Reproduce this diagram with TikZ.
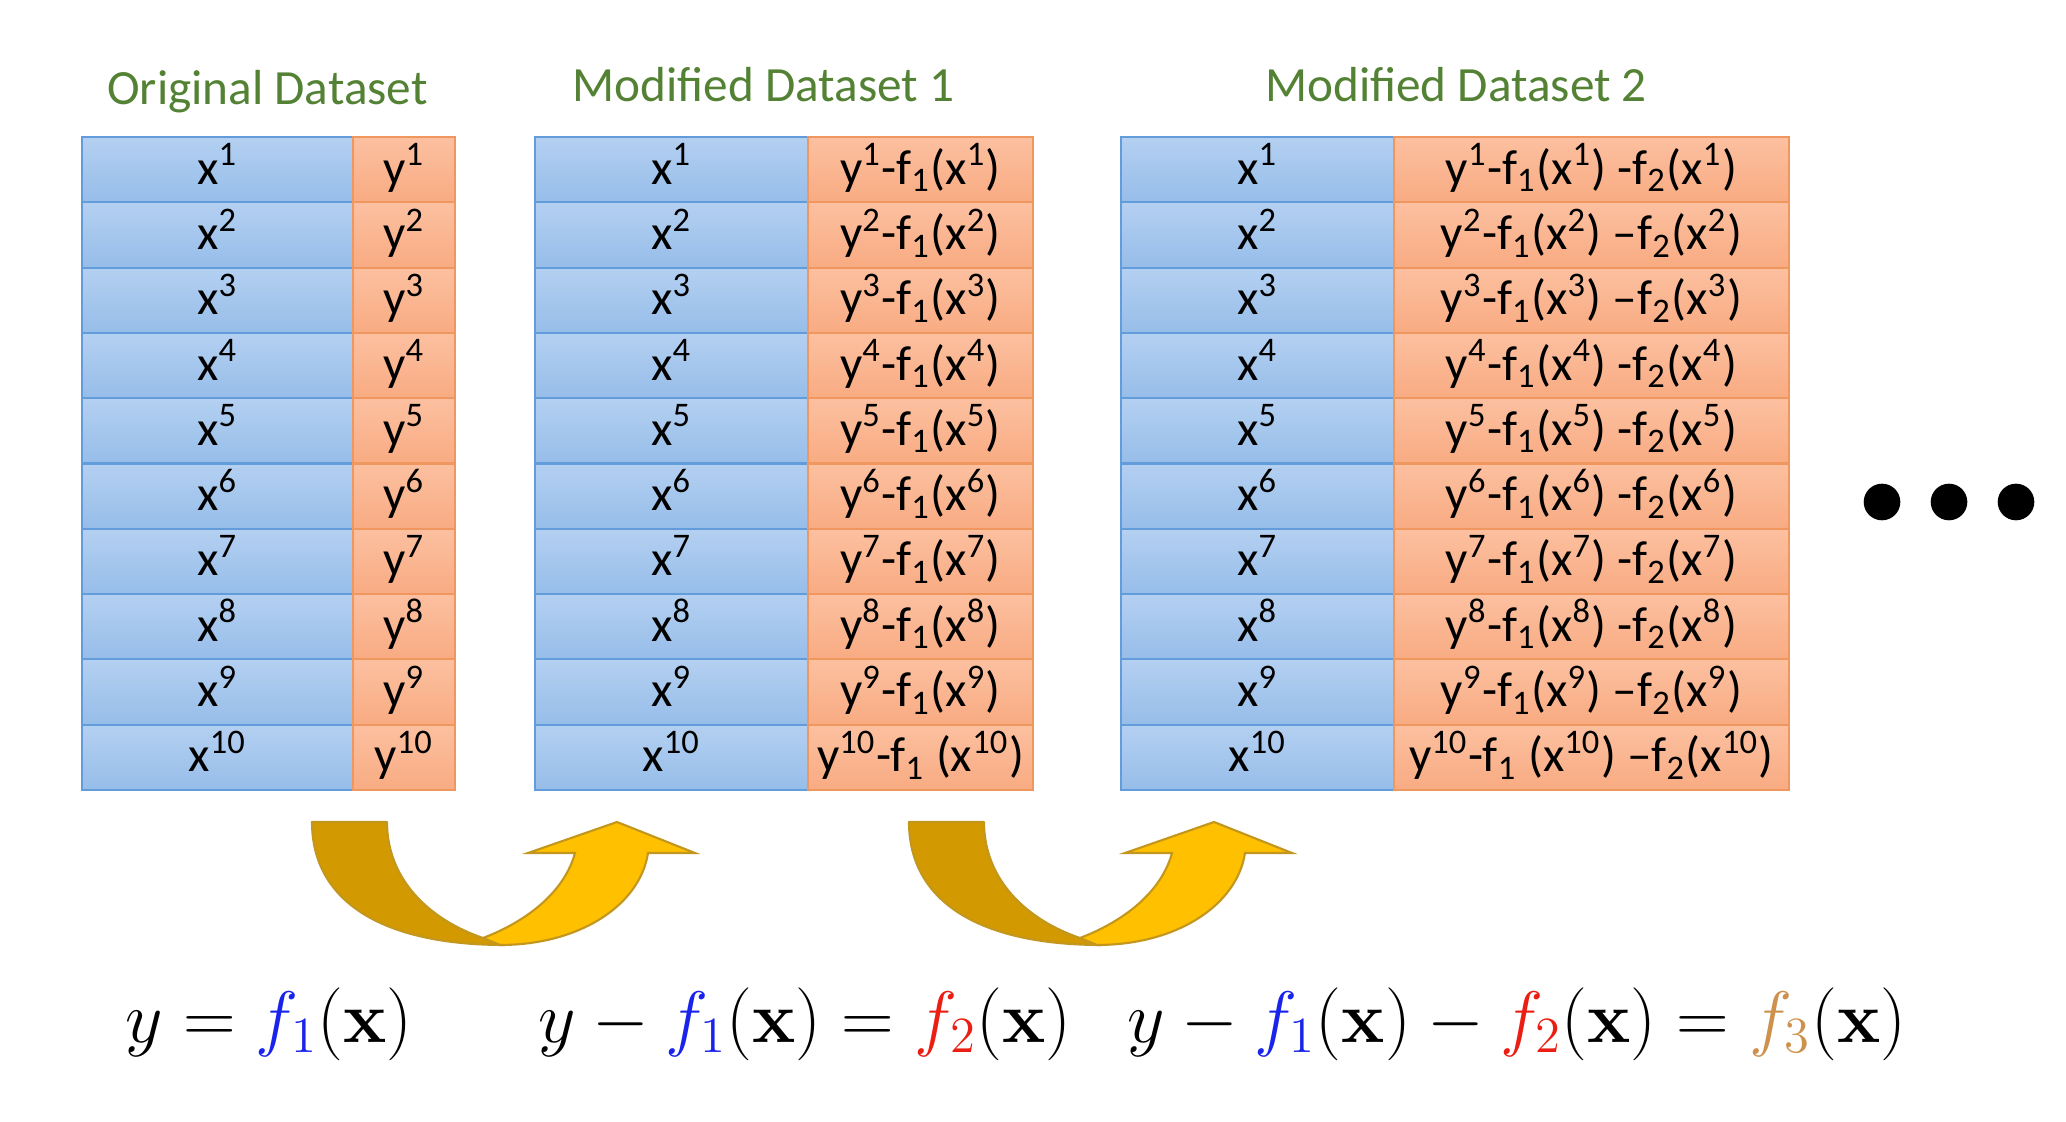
\documentclass[tikz,border=0pt]{standalone}
\usepackage[no-math]{fontspec}
\setmainfont{Carlito}
\definecolor{titlegreen}{RGB}{84,130,53}
\definecolor{blueT}{RGB}{180,208,241}
\definecolor{blueB}{RGB}{150,189,233}
\definecolor{blueLine}{RGB}{98,156,218}
\definecolor{orangeT}{RGB}{252,192,160}
\definecolor{orangeB}{RGB}{248,171,130}
\definecolor{orangeLine}{RGB}{240,150,95}
\definecolor{gold}{RGB}{210,154,0}
\definecolor{amber}{RGB}{255,192,0}
\definecolor{goldLine}{RGB}{195,150,30}
\definecolor{fblue}{RGB}{25,35,235}
\definecolor{fred}{RGB}{235,30,20}
\definecolor{ftan}{RGB}{205,145,75}
\begin{document}
\begin{tikzpicture}[x=0.01cm,y=-0.01cm,
  cellbase/.style={inner sep=0pt, outer sep=0pt, minimum height=0.653cm, line width=0.6pt,
    font=\fontsize{14}{17}\selectfont, text height=0.47cm, text depth=0.18cm},
  xcell/.style={cellbase, draw=blueLine, top color=blueT, bottom color=blueB},
  ycell/.style={cellbase, draw=orangeLine, top color=orangeT, bottom color=orangeB},
  titletext/.style={anchor=base, text=titlegreen, font=\fontsize{14}{17}\selectfont},
  formula/.style={anchor=base, inner sep=0pt, font=\fontsize{20}{24}\selectfont},
  bigdot/.style={circle, fill=black, inner sep=0pt, minimum size=0.366cm},
  darkband/.style={fill=gold, draw=goldLine, line width=0.6pt, line join=round},
  lightband/.style={fill=amber, draw=goldLine, line width=0.6pt, line join=miter}]

\fill[white] (0,0) rectangle (2066,1122);
\useasboundingbox (0,0) rectangle (2066,1122);

% titles
\node[titletext] (title1) at (267.5,105) {Original Dataset};
\node[titletext] (title2) at (763.5,102) {Modified Dataset 1};
\node[titletext] (title3) at (1456,102) {Modified Dataset 2};

% table 1
\foreach \i in {1,...,10}{
  \pgfmathsetmacro{\ry}{137+65.3*(\i-0.5)}
  \node[xcell, minimum width=2.71cm] (ax\i) at (217.5,\ry) {x\textsuperscript{\i}};
  \node[ycell, minimum width=1.02cm] (ay\i) at (404,\ry) {y\textsuperscript{\i}};
}

% table 2
\foreach \i/\gp in {1/{},2/{},3/{},4/{},5/{},6/{},7/{},8/{},9/{},10/\space}{
  \pgfmathsetmacro{\ry}{137+65.3*(\i-0.5)}
  \node[xcell, minimum width=2.73cm] (bx\i) at (671.5,\ry) {x\textsuperscript{\i}};
  \node[ycell, minimum width=2.25cm] (by\i) at (920.5,\ry)
    {y\textsuperscript{\i}-f\textsubscript{1}\gp(x\textsuperscript{\i})};
}

% table 3
\foreach \i/\gp/\dsh in {1/{}/-,2/{}/\textendash,3/{}/\textendash,4/{}/-,5/{}/-,6/{}/-,7/{}/-,8/{}/-,9/{}/\textendash,10/\space/\textendash}{
  \pgfmathsetmacro{\ry}{137+65.3*(\i-0.5)}
  \node[xcell, minimum width=2.73cm] (cx\i) at (1257.5,\ry) {x\textsuperscript{\i}};
  \node[ycell, minimum width=3.95cm] (cy\i) at (1591.5,\ry)
    {y\textsuperscript{\i}-f\textsubscript{1}\gp(x\textsuperscript{\i}) \dsh f\textsubscript{2}(x\textsuperscript{\i})};
}

% dots
\node[bigdot] (dot1) at (1882,502) {};
\node[bigdot] (dot2) at (1949,502) {};
\node[bigdot] (dot3) at (2016,502) {};

% curved arrows
\foreach \s in {0,597}{
\begin{scope}[shift={(\s,0)}]
  \path[darkband] (312,822) -- (387,822) .. controls (387,880) and (430,920) .. (483,938)
     -- (505,945) .. controls (380,945) and (312,900) .. (312,822) -- cycle;
  \path[lightband] (483,938) .. controls (530,920) and (565,890) .. (575,853)
     -- (528,853) -- (617,822) -- (695,853) -- (648,853)
     .. controls (640,905) and (580,945) .. (500,945) -- cycle;
\end{scope}
}

% formulas
\node[formula] (eq1) at (269,1042) {$y = {\color{fblue}f_1}(\mathbf{x})$};
\node[formula] (eq2) at (805,1042) {$y - {\color{fblue}f_1}(\mathbf{x}) = {\color{fred}f_2}(\mathbf{x})$};
\node[formula] (eq3) at (1517,1042) {$y - {\color{fblue}f_1}(\mathbf{x}) - {\color{fred}f_2}(\mathbf{x}) = {\color{ftan}f_3}(\mathbf{x})$};

\end{tikzpicture}
\end{document}
